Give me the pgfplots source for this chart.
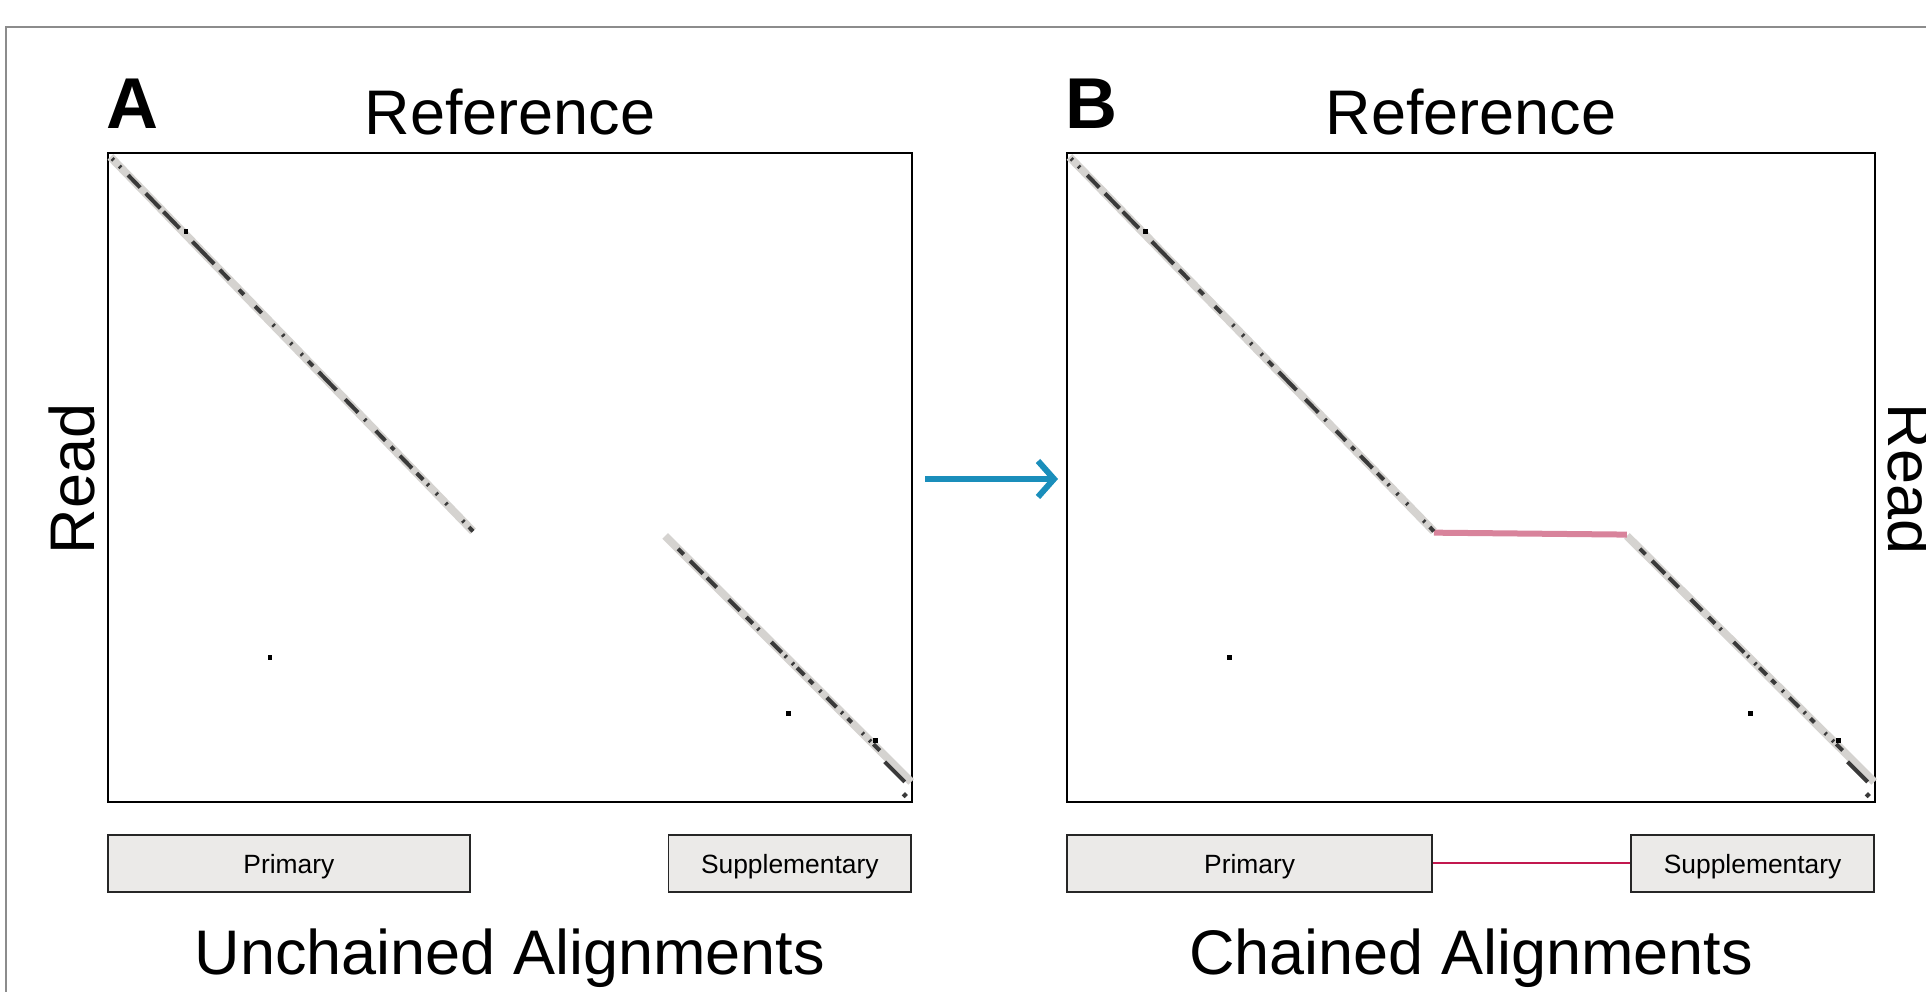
\documentclass[border=0pt]{standalone}
\usepackage{pgfplots}
\pgfplotsset{compat=1.18}
\usepackage{pgfplotstable}
\usepackage{fontspec}
\setmainfont{Liberation Sans}
\usetikzlibrary{arrows.meta}

\definecolor{bandgray}{HTML}{D5D3D0}
\definecolor{segdark}{HTML}{3A3A3A}
\definecolor{chainpink}{HTML}{D8839B}
\definecolor{linkred}{HTML}{C2184F}
\definecolor{boxfill}{HTML}{EBEAE8}
\definecolor{arrowblue}{HTML}{1A8EBB}

\pgfplotstableread{
x y
0.003 0.006
0.454 0.583
}\primgray

\pgfplotstableread{
x y
0.693 0.590
0.999 0.969
}\suppgray

\pgfplotstableread{
x y
0.454 0.585
0.693 0.588
}\chain

\pgfplotstableread{
x y
0.005 0.0086
0.007 0.0111
0.010 nan
0.014 0.0201
0.016 0.0226
0.020 nan
0.025 0.0341
0.040 0.0533
0.044 nan
0.047 0.0623
0.065 0.0853
0.067 nan
0.069 0.0904
0.089 0.1160
0.095 nan
0.105 0.1365
0.132 0.1710
0.135 nan
0.139 0.1799
0.151 0.1953
0.155 nan
0.163 0.2106
0.169 0.2183
0.175 nan
0.183 0.2362
0.191 0.2465
0.195 nan
0.205 0.2644
0.207 0.2669
0.210 nan
0.217 0.2797
0.219 0.2823
0.222 nan
0.227 0.2925
0.229 0.2951
0.232 nan
0.240 0.3091
0.242 0.3117
0.245 nan
0.249 0.3206
0.255 0.3283
0.258 nan
0.262 0.3373
0.284 0.3654
0.290 nan
0.295 0.3795
0.311 0.3999
0.315 nan
0.319 0.4102
0.321 0.4127
0.325 nan
0.333 0.4280
0.345 0.4434
0.348 nan
0.352 0.4524
0.356 0.4575
0.360 nan
0.363 0.4664
0.378 0.4856
0.380 nan
0.384 0.4933
0.392 0.5035
0.395 nan
0.397 0.5099
0.399 0.5125
0.403 nan
0.408 0.5240
0.410 0.5266
0.415 nan
0.420 0.5393
0.422 0.5419
0.430 nan
0.441 0.5662
0.443 0.5688
0.446 nan
0.449 0.5764
0.454 0.5830
}\primdark

\pgfplotstableread{
x y
0.709 0.6098
0.716 0.6185
0.720 nan
0.724 0.6284
0.740 0.6482
0.742 nan
0.745 0.6544
0.757 0.6693
0.765 nan
0.772 0.6878
0.786 0.7052
0.790 nan
0.794 0.7151
0.802 0.7250
0.805 nan
0.808 0.7324
0.810 0.7349
0.815 nan
0.825 0.7535
0.838 0.7696
0.840 nan
0.842 0.7746
0.844 0.7770
0.848 nan
0.851 0.7857
0.853 0.7882
0.855 nan
0.857 0.7931
0.866 0.8043
0.869 nan
0.872 0.8117
0.877 0.8179
0.880 nan
0.885 0.8278
0.887 0.8303
0.890 nan
0.894 0.8390
0.906 0.8538
0.909 nan
0.912 0.8613
0.914 0.8637
0.917 nan
0.920 0.8712
0.925 0.8774
0.930 nan
0.938 0.8935
0.940 0.8959
0.944 nan
0.947 0.9046
0.949 0.9071
0.950 nan
0.952 0.9108
0.960 0.9207
0.963 nan
0.966 0.9381
0.991 0.9691
0.992 nan
0.989 0.9920
0.993 0.9870
}\suppdark

\pgfplotstableread{
x y
0.2015 0.777
0.846 0.864
0.955 0.905
0.097 0.121
}\strays

\pgfplotsset{panel/.style={
  scale only axis, width=201pt, height=162.25pt,
  xmin=0, xmax=1, ymin=0, ymax=1, y dir=reverse,
  xtick=\empty, ytick=\empty, clip=false,
  axis line style={line width=0.6pt, black},
  anchor=south west}}

\newcommand{\boxfont}{\fontsize{6.6}{8}\selectfont}
\newcommand{\bigfont}{\fontsize{15.75}{18}\selectfont}

\begin{document}
\begin{tikzpicture}[x=1pt,y=1pt]
\useasboundingbox (0,0) rectangle (481.5,248);
\clip (0,0) rectangle (481.5,248);
\draw[black!45, line width=0.5pt] (1.5,-10) -- (1.5,241.25) -- (500,241.25);

% Panel A
\begin{axis}[panel, at={(27pt,47.5pt)}]
\addplot[bandgray, line width=2pt] table {\primgray};
\addplot[bandgray, line width=2pt] table {\suppgray};
\addplot[segdark, line width=1pt, unbounded coords=jump] table {\primdark};
\addplot[segdark, line width=1pt, unbounded coords=jump] table {\suppdark};
\addplot[only marks, mark=square*, mark size=0.4pt, black] table {\strays};
\draw[fill=boxfill, draw=black!85, line width=0.4pt] (axis cs:0,1.051) rectangle (axis cs:0.450,1.139);
\node[font=\boxfont] at (axis cs:0.225,1.100) {Primary};
\draw[fill=boxfill, draw=black!85, line width=0.4pt] (axis cs:0.697,1.051) rectangle (axis cs:0.999,1.139);
\node[font=\boxfont] at (axis cs:0.848,1.100) {Supplementary};
\end{axis}

% Panel B
\begin{axis}[panel, at={(266.75pt,47.5pt)}, width=202pt]
\addplot[bandgray, line width=2pt] table {\primgray};
\addplot[bandgray, line width=2pt] table {\suppgray};
\addplot[chainpink, line width=1.5pt] table {\chain};
\addplot[segdark, line width=1pt, unbounded coords=jump] table {\primdark};
\addplot[segdark, line width=1pt, unbounded coords=jump] table {\suppdark};
\addplot[only marks, mark=square*, mark size=0.4pt, black] table {\strays};
\draw[linkred, line width=0.7pt] (axis cs:0.452,1.094) -- (axis cs:0.698,1.094);
\draw[fill=boxfill, draw=black!85, line width=0.4pt] (axis cs:0,1.051) rectangle (axis cs:0.452,1.139);
\node[font=\boxfont] at (axis cs:0.226,1.100) {Primary};
\draw[fill=boxfill, draw=black!85, line width=0.4pt] (axis cs:0.698,1.051) rectangle (axis cs:0.999,1.139);
\node[font=\boxfont] at (axis cs:0.8485,1.100) {Supplementary};
\end{axis}

% Texts
\node[font=\fontsize{18}{20}\selectfont\bfseries, anchor=base west, inner sep=0pt] at (26.5,215.75) {A};
\node[font=\fontsize{18}{20}\selectfont\bfseries, anchor=base west, inner sep=0pt] at (266.2,215.75) {B};
\node[font=\bigfont, anchor=base, inner sep=0pt] at (127.5,214.25) {Reference};
\node[font=\bigfont, anchor=base, inner sep=0pt] at (367.75,214.25) {Reference};
\node[font=\bigfont, anchor=base, inner sep=0pt, rotate=90] at (23.6,128.25) {Read};
\node[font=\bigfont, anchor=base, inner sep=0pt, rotate=-90] at (472,128.25) {Read};
\node[font=\bigfont, anchor=base, inner sep=0pt] at (127.5,4.25) {Unchained Alignments};
\node[font=\bigfont, anchor=base, inner sep=0pt] at (367.75,4.25) {Chained Alignments};

% Arrow
\draw[arrowblue, line width=1.5pt, -{Straight Barb[length=4pt,width=9pt]}] (231.25,128.25) -- (264.5,128.25);
\end{tikzpicture}
\end{document}
